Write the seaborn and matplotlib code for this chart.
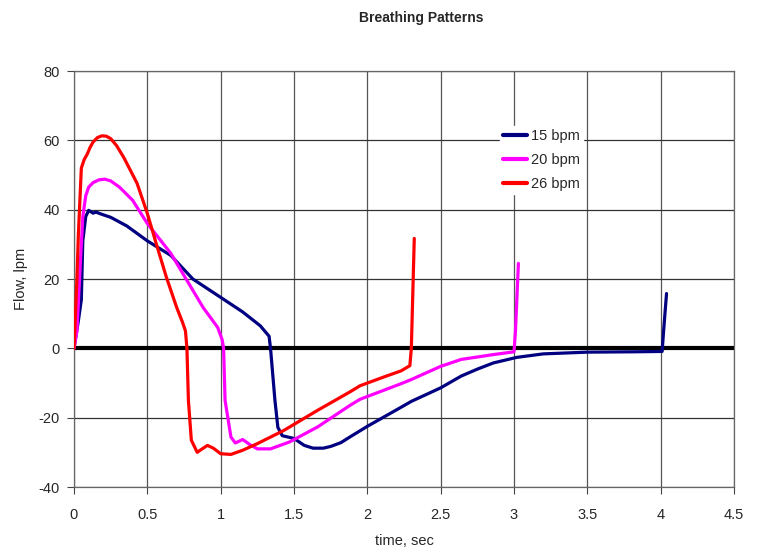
import matplotlib
matplotlib.use("Agg")
import matplotlib.pyplot as plt
import seaborn as sns
import pandas as pd

# Flow traces (time in s, flow in lpm) for three breathing rates
t_15 = [0, 0.03, 0.05, 0.06, 0.08, 0.10, 0.13, 0.15, 0.18, 0.25, 0.36, 0.5, 0.66, 0.81,
        1.0, 1.15, 1.27, 1.31, 1.33, 1.34, 1.37, 1.39, 1.42, 1.5, 1.57, 1.63, 1.70, 1.75,
        1.82, 1.88, 2.0, 2.23, 2.3, 2.5, 2.64, 2.75, 2.86, 3.02, 3.2, 3.5, 3.82, 4.01,
        4.02, 4.04]
f_15 = [0, 8, 14, 31, 38, 39.8, 39, 39.3, 38.8, 37.8, 35.3, 31, 26.8, 20,
        14.7, 10.5, 6.5, 4.5, 3.5, 0, -15, -22.8, -25.2, -26, -28, -28.8, -28.8, -28.3,
        -27.2, -25.6, -22.5, -17, -15.3, -11.4, -8, -6, -4.2, -2.6, -1.6, -1.1, -1.0, -0.9,
        5, 15.8]

t_20 = [0, 0.02, 0.04, 0.06, 0.08, 0.10, 0.13, 0.17, 0.21, 0.25, 0.31, 0.4, 0.5, 0.66,
        0.77, 0.88, 0.98, 1.01, 1.02, 1.03, 1.07, 1.10, 1.15, 1.2, 1.25, 1.34, 1.47, 1.66,
        1.88, 1.95, 2.23, 2.3, 2.5, 2.64, 2.86, 3.0, 3.01, 3.03]
f_20 = [0, 5, 22, 38, 44, 46.5, 47.8, 48.6, 48.8, 48.3, 46.5, 42.7, 36, 27.4,
        19.6, 11.8, 6, 2.5, 0, -15, -25.6, -27.3, -26.3, -27.8, -29, -29, -27, -22.7,
        -16.5, -14.7, -10.2, -9, -5.2, -3.2, -1.8, -1.0, 5, 24.5]

t_26 = [0, 0.02, 0.03, 0.05, 0.07, 0.09, 0.11, 0.13, 0.16, 0.19, 0.22, 0.25, 0.29, 0.34,
        0.43, 0.5, 0.56, 0.63, 0.7, 0.74, 0.76, 0.77, 0.78, 0.80, 0.84, 0.86, 0.91, 0.95,
        1.0, 1.07, 1.15, 1.25, 1.43, 1.66, 1.88, 1.95, 2.11, 2.23, 2.29, 2.30, 2.32]
f_26 = [0, 20, 33, 52, 54.5, 56, 58, 59.5, 60.8, 61.3, 61.2, 60.5, 58.5, 55,
        47.6, 38.9, 30.3, 20.5, 11.8, 7.5, 5, 0, -15, -26.5, -30, -29.4, -28, -28.8,
        -30.4, -30.6, -29.4, -27.5, -23.7, -17.9, -12.6, -10.8, -8.3, -6.5, -5.0, 0, 31.7]

series_names = ["15 bpm", "20 bpm", "26 bpm"]
series_colors = ["#000080", "#FF00FF", "#FF0000"]

x_ticks = [0, 0.5, 1, 1.5, 2, 2.5, 3, 3.5, 4, 4.5]
x_tick_labels = ["0", "0.5", "1", "1.5", "2", "2.5", "3", "3.5", "4", "4.5"]
y_ticks = [-40, -20, 0, 20, 40, 60, 80]

frames = []
for name, t, f in zip(series_names, (t_15, t_20, t_26), (f_15, f_20, f_26)):
    frames.append(pd.DataFrame({"time": t, "flow": f, "series": name}))
df = pd.concat(frames, ignore_index=True)

sns.set_style("white")
plt.rcParams["font.family"] = ["Liberation Sans", "DejaVu Sans"]
plt.rcParams["axes.unicode_minus"] = False

fig = plt.figure(figsize=(7.58, 5.5), dpi=100)
ax = fig.add_axes([74 / 758, 1 - 487 / 550, 660 / 758, 416 / 550])

# grid
for xv in x_ticks:
    ax.axvline(xv, color="#555555", lw=0.9, zorder=0)
for yv in y_ticks:
    ax.axhline(yv, color="#333333", lw=0.9, zorder=0)

# zero line
ax.axhline(0, color="black", lw=3.0, zorder=1)

sns.lineplot(data=df, x="time", y="flow", hue="series", hue_order=series_names,
             palette=series_colors, sort=False, estimator=None, units="series",
             lw=2.3, ax=ax, zorder=3, legend=True)

ax.set_xlim(0, 4.5)
ax.set_ylim(-40, 80)
ax.set_xticks(x_ticks)
ax.set_xticklabels(x_tick_labels)
ax.set_yticks(y_ticks)
ax.tick_params(axis="both", direction="out", length=5, width=0.8, color="#444444",
               labelsize=10.5, bottom=True, left=True)
ax.tick_params(axis="x", pad=10)
ax.tick_params(axis="y", pad=5)
for side, spine in ax.spines.items():
    spine.set_visible(True)
    spine.set_color("#666666")
    spine.set_linewidth(0.9)

ax.set_xlabel("time, sec", fontsize=10.5, labelpad=9)
ax.set_ylabel("Flow, lpm", fontsize=10.5, labelpad=8)

leg = ax.legend(loc="upper left", bbox_to_anchor=(0.646, 0.868), frameon=True,
                fontsize=10.5, handlelength=1.6, handletextpad=0.3,
                labelspacing=0.69, borderpad=0.2, borderaxespad=0)
leg.get_frame().set_edgecolor("white")
leg.get_frame().set_facecolor("white")
leg.get_frame().set_alpha(1)
leg.set_title(None)
for line in leg.get_lines():
    line.set_linewidth(3)

fig.text(421 / 758, 1 - 18 / 550, "Breathing Patterns", ha="center", va="center",
         fontsize=10, fontweight="bold")

fig.savefig("out.png", dpi=100, facecolor="white")
